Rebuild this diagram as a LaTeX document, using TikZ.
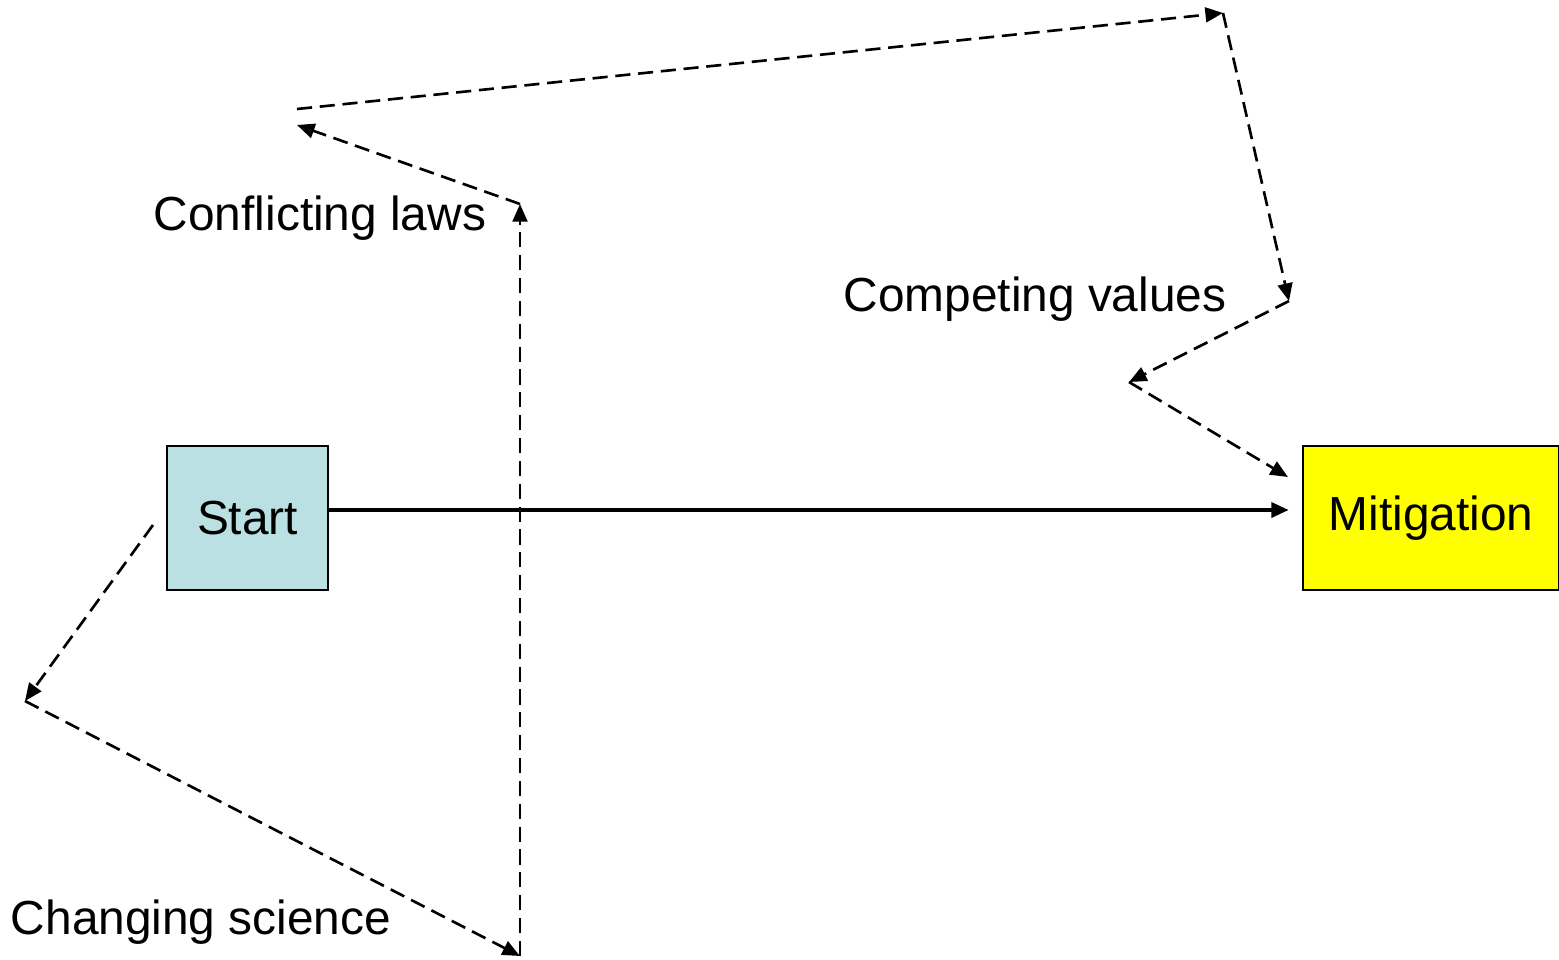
\documentclass[tikz,border=0pt]{standalone}
\usepackage{fontspec}
\setmainfont{Liberation Sans}
\usetikzlibrary{arrows.meta}
\definecolor{startblue}{RGB}{187,224,227}
\definecolor{mitiyellow}{RGB}{255,255,0}
\begin{document}
\begin{tikzpicture}[x=0.01cm, y=-0.01cm,
        box/.style={rectangle, draw, line width=0.6pt, minimum height=1.44cm, align=center, font=\fontsize{13.6}{16}\selectfont},
        txt/.style={anchor=base, inner sep=0pt, font=\fontsize{13.6}{16}\selectfont},
        solidarrow/.style={-{Triangle[length=5pt, width=4.2pt]}, line width=1.2pt},
        dasharrow/.style={-{Triangle[length=5pt, width=4.2pt]}, line width=0.75pt, dash pattern=on 4.3pt off 2.2pt}
    ]
        \useasboundingbox (0,0) rectangle (1559,960);
        \node[box, fill=startblue, minimum width=1.61cm] (start) at (247.5,518) {Start};
        \node[box, fill=mitiyellow, minimum width=2.56cm] (mitigation) at (1431,518) {Mitigation};
        
        \node[txt] (laws) at (320,230) {Conflicting laws};
        \node[txt] (values) at (1035,311) {Competing values};
        \node[txt] (science) at (201,934) {Changing science};
        
        \coordinate (c0) at (153,525);
        \coordinate (c1) at (25,701);
        \coordinate (c2) at (520,956);
        \coordinate (c3) at (520,204);
        \coordinate (c4) at (297,125);
        \coordinate (c5) at (297,109);
        \coordinate (c6) at (1223,13);
        \coordinate (c7) at (1289,301);
        \coordinate (c8) at (1129,382);
        \coordinate (c9) at (1288,477);
        
        \draw[solidarrow, shorten >=0.13cm] ([yshift=0.08cm]start.east) -- ([yshift=0.08cm]mitigation.west);
        \draw[dasharrow] (c0) -- (c1);
        \draw[dasharrow] (c1) -- (c2);
        \draw[dasharrow] (c2) -- (c3);
        \draw[dasharrow] (c3) -- (c4);
        \draw[dasharrow] (c5) -- (c6);
        \draw[dasharrow] (c6) -- (c7);
        \draw[dasharrow] (c7) -- (c8);
        \draw[dasharrow] (c8) -- (c9);
    \end{tikzpicture}
\end{document}
